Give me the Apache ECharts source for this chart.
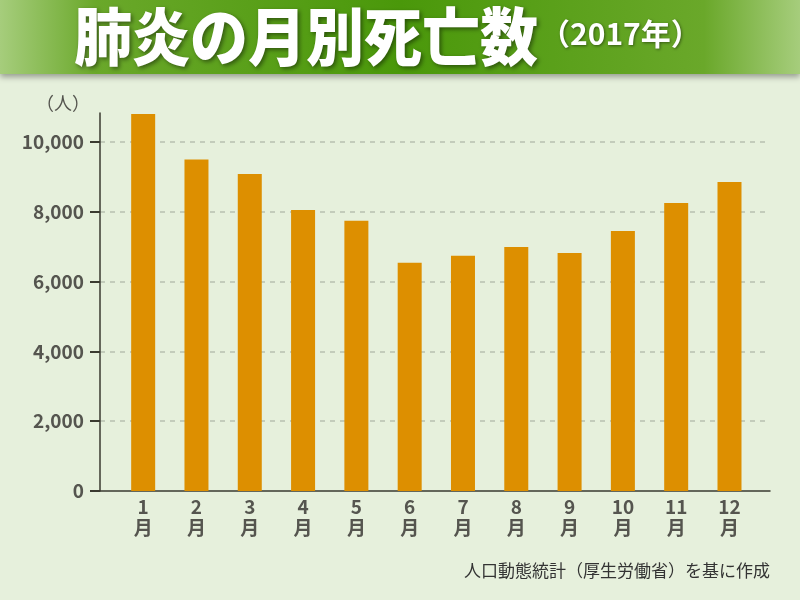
<!DOCTYPE html>
<html><head><meta charset="utf-8">
<script src="https://cdn.jsdelivr.net/npm/echarts@6/dist/echarts.min.js"></script>
<style>html,body{margin:0;padding:0;background:#e6f0dc}#c{width:800px;height:600px}</style>
</head><body><div id="c"></div>
<script>
const months = ['1','2','3','4','5','6','7','8','9','10','11','12'];
const deaths = [10800, 9500, 9080, 8050, 7740, 6540, 6740, 6990, 6820, 7450, 8250, 8850];
const yTicks = [0, 2000, 4000, 6000, 8000, 10000];
const titleMain = '肺炎の月別死亡数';
const titleSub = '（2017年）';
const unitLabel = '（人）';
const source = '人口動態統計（厚生労働省）を基に作成';

const font = '"Noto Sans CJK JP", "Noto Sans", sans-serif';
const chart = echarts.init(document.getElementById('c'));
chart.setOption({
  backgroundColor: '#e6f0dc',
  animation: false,
  grid: {left: 100, right: 30, top: 113, bottom: 109},
  xAxis: {
    type: 'value', min: 0.19, max: 12.76,
    splitLine: {show: false},
    axisLine: {show: true, onZero: false, lineStyle: {color: '#3a3a30', width: 1.5}},
    axisTick: {show: false},
    axisLabel: {
      customValues: months.map((m, i) => i + 1),
      formatter: v => months[Math.round(v) - 1] + '\n月',
      color: '#55554f', fontWeight: 'bold', fontSize: 19, lineHeight: 21,
      fontFamily: font, margin: 5
    }
  },
  yAxis: {
    type: 'value', min: 0, max: 10830, interval: 2000,
    name: unitLabel, nameLocation: 'end', nameGap: 1,
    nameTextStyle: {color: '#55554f', fontSize: 18, fontFamily: font, align: 'right', padding: [0, 10, 0, 0]},
    axisLine: {show: true, lineStyle: {color: '#3a3a30', width: 1.5}},
    axisTick: {show: true, length: 10, customValues: yTicks, lineStyle: {color: '#3a3a30', width: 2}},
    axisLabel: {
      customValues: yTicks,
      formatter: v => v.toLocaleString('en-US'),
      color: '#55554f', fontWeight: 'bold', fontSize: 19, fontFamily: font, margin: 16
    },
    splitLine: {show: true, showMinLine: false, showMaxLine: true, lineStyle: {color: '#b8c0b0', type: [5, 5], width: 1.5}}
  },
  series: [{
    type: 'bar', barWidth: 24,
    itemStyle: {color: '#dd8f00'},
    data: deaths.map((v, i) => [i + 1, v])
  }],
  graphic: [
    {type: 'rect', shape: {x: 0, y: 0, width: 800, height: 74}, z: 10,
     style: {fill: new echarts.graphic.LinearGradient(0, 0, 1, 0, [
       {offset: 0, color: '#a6cd7c'}, {offset: 0.12, color: '#6aa82a'},
       {offset: 0.5, color: '#4a980a'}, {offset: 0.88, color: '#6aa82a'}, {offset: 1, color: '#a6cd7c'}]),
       shadowBlur: 6, shadowOffsetY: 3, shadowColor: 'rgba(0,0,0,0.35)'}},
    {type: 'text', left: 74, top: 5, z: 11, scaleY: 1.08,
     style: {text: titleMain, fill: '#ffffff', font: '900 58px ' + font,
       textShadowBlur: 4, textShadowOffsetX: 2, textShadowOffsetY: 2, textShadowColor: 'rgba(0,0,0,0.45)'}},
    {type: 'text', left: 540, top: 19, z: 11,
     style: {text: titleSub, fill: '#ffffff', font: 'bold 30px ' + font,
       textShadowBlur: 3, textShadowOffsetX: 1, textShadowOffsetY: 1, textShadowColor: 'rgba(0,0,0,0.45)'}},
    {type: 'text', right: 30, top: 562, z: 11,
     style: {text: source, fill: '#333333', font: '17px ' + font}}
  ]
});
</script></body></html>
